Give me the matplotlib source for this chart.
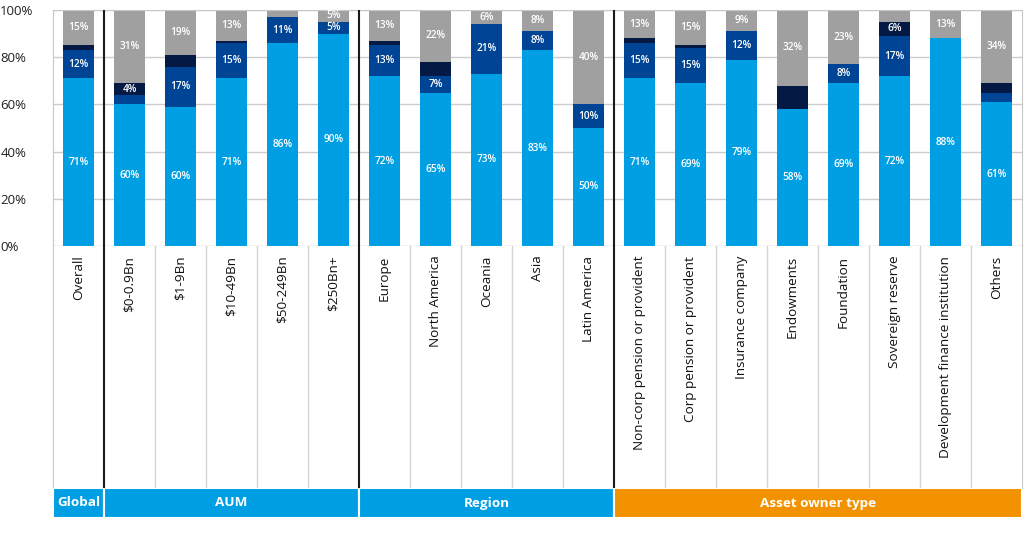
import numpy as np
import matplotlib.pyplot as plt
from matplotlib.patches import Rectangle

plt.rcParams['font.family'] = ['Open Sans', 'DejaVu Sans']

categories = ["Overall", "\\$0-0.9Bn", "\\$1-9Bn", "\\$10-49Bn", "\\$50-249Bn", "\\$250Bn+",
              "Europe", "North America", "Oceania", "Asia", "Latin America",
              "Non-corp pension or provident", "Corp pension or provident", "Insurance company",
              "Endowments", "Foundation", "Sovereign reserve", "Development finance institution",
              "Others"]

groups = ["Global", "AUM", "Region", "Asset owner type"]
group_sizes = [1, 5, 5, 8]

# segment heights (bottom to top)
light = [71, 60, 59, 71, 86, 90, 72, 65, 73, 83, 50, 71, 69, 79, 58, 69, 72, 88, 61]
dark = [12, 4, 17, 15, 11, 5, 13, 7, 21, 8, 10, 15, 15, 12, 0, 8, 17, 0, 4]
navy = [2, 5, 5, 1, 0, 0, 2, 6, 0, 0, 0, 2, 1, 0, 10, 0, 6, 0, 4]
grey = [15, 31, 19, 13, 3, 5, 13, 22, 6, 9, 40, 12, 15, 9, 32, 23, 5, 12, 31]

# printed labels (None = no label)
lab_light = [71, 60, 60, 71, 86, 90, 72, 65, 73, 83, 50, 71, 69, 79, 58, 69, 72, 88, 61]
lab_dark = [12, None, 17, 15, 11, 5, 13, 7, 21, 8, 10, 15, 15, 12, None, 8, 17, None, None]
lab_navy = [None, 4, None, None, None, None, None, None, None, None, None, None, None, None,
            None, None, 6, None, None]
lab_grey = [15, 31, 19, 13, None, 5, 13, 22, 6, 8, 40, 13, 15, 9, 32, 23, None, 13, 34]

c_light = "#009fe3"
c_dark = "#004595"
c_navy = "#041a45"
c_grey = "#a0a0a0"
group_colors = [c_light, c_light, c_light, "#f39200"]

W, H = 1024, 536


def box(l, t, r, b):
    return [l / W, 1 - b / H, (r - l) / W, (b - t) / H]


fig = plt.figure(figsize=(10.24, 5.36), dpi=100)
ax = fig.add_axes(box(53, 10, 1022, 246))
axl = fig.add_axes(box(53, 246, 1022, 488))
axb = fig.add_axes(box(53, 488, 1022, 518))

n = len(categories)
x = np.arange(n) + 0.5
bottom = np.zeros(n)
for vals, col, labs in [(light, c_light, lab_light), (dark, c_dark, lab_dark),
                        (navy, c_navy, lab_navy), (grey, c_grey, lab_grey)]:
    vals = np.array(vals, dtype=float)
    ax.bar(x, vals, 0.6, bottom=bottom, color=col, zorder=2)
    for i, lab in enumerate(labs):
        if lab is None:
            continue
        ax.text(x[i], bottom[i] + vals[i] / 2, f"{lab}%", ha="center", va="center",
                color="white", fontsize=7.3, fontweight="semibold", zorder=3)
    bottom += vals

ax.set_xlim(0, n)
ax.set_ylim(0, 100)
ax.set_xticks([])
ax.set_yticks(range(0, 101, 20))
ax.set_yticklabels([f"{v}%" for v in range(0, 101, 20)], ha="left", color="#222222", fontsize=9.5)
ax.tick_params(axis="y", length=0, pad=38)
ax.grid(axis="y", color="#cccccc", lw=1, zorder=0)
for s in ax.spines.values():
    s.set_color("#c8c8c8")

# group dividers
dividers = np.cumsum(group_sizes)[:-1]
for d in dividers:
    ax.axvline(d, color="#1a1a1a", lw=1.5, zorder=4)
    axl.axvline(d, color="#1a1a1a", lw=1.5, zorder=4)

# label area
axl.set_xlim(0, n)
axl.set_ylim(0, 1)
axl.set_xticks([])
axl.set_yticks([])
for s in axl.spines.values():
    s.set_color("#c8c8c8")
axl.spines["top"].set_visible(False)
axl.spines["bottom"].set_visible(False)
for k in range(1, n):
    if k not in dividers:
        axl.axvline(k, color="#d4d4d4", lw=1)
for i, cat in enumerate(categories):
    axl.text(x[i], 0.96, cat, rotation=90, ha="center", va="top", fontsize=9.7, color="#111111")

# group band
axb.set_xlim(0, n)
axb.set_ylim(0, 1)
axb.axis("off")
start = 0
for g, size, col in zip(groups, group_sizes, group_colors):
    axb.add_patch(Rectangle((start, 0), size, 1, facecolor=col, edgecolor="white", lw=1.5))
    axb.text(start + size / 2, 0.5, g, ha="center", va="center", color="white",
             fontsize=9.7, fontweight="bold")
    start += size

fig.savefig("out.png", dpi=100)
